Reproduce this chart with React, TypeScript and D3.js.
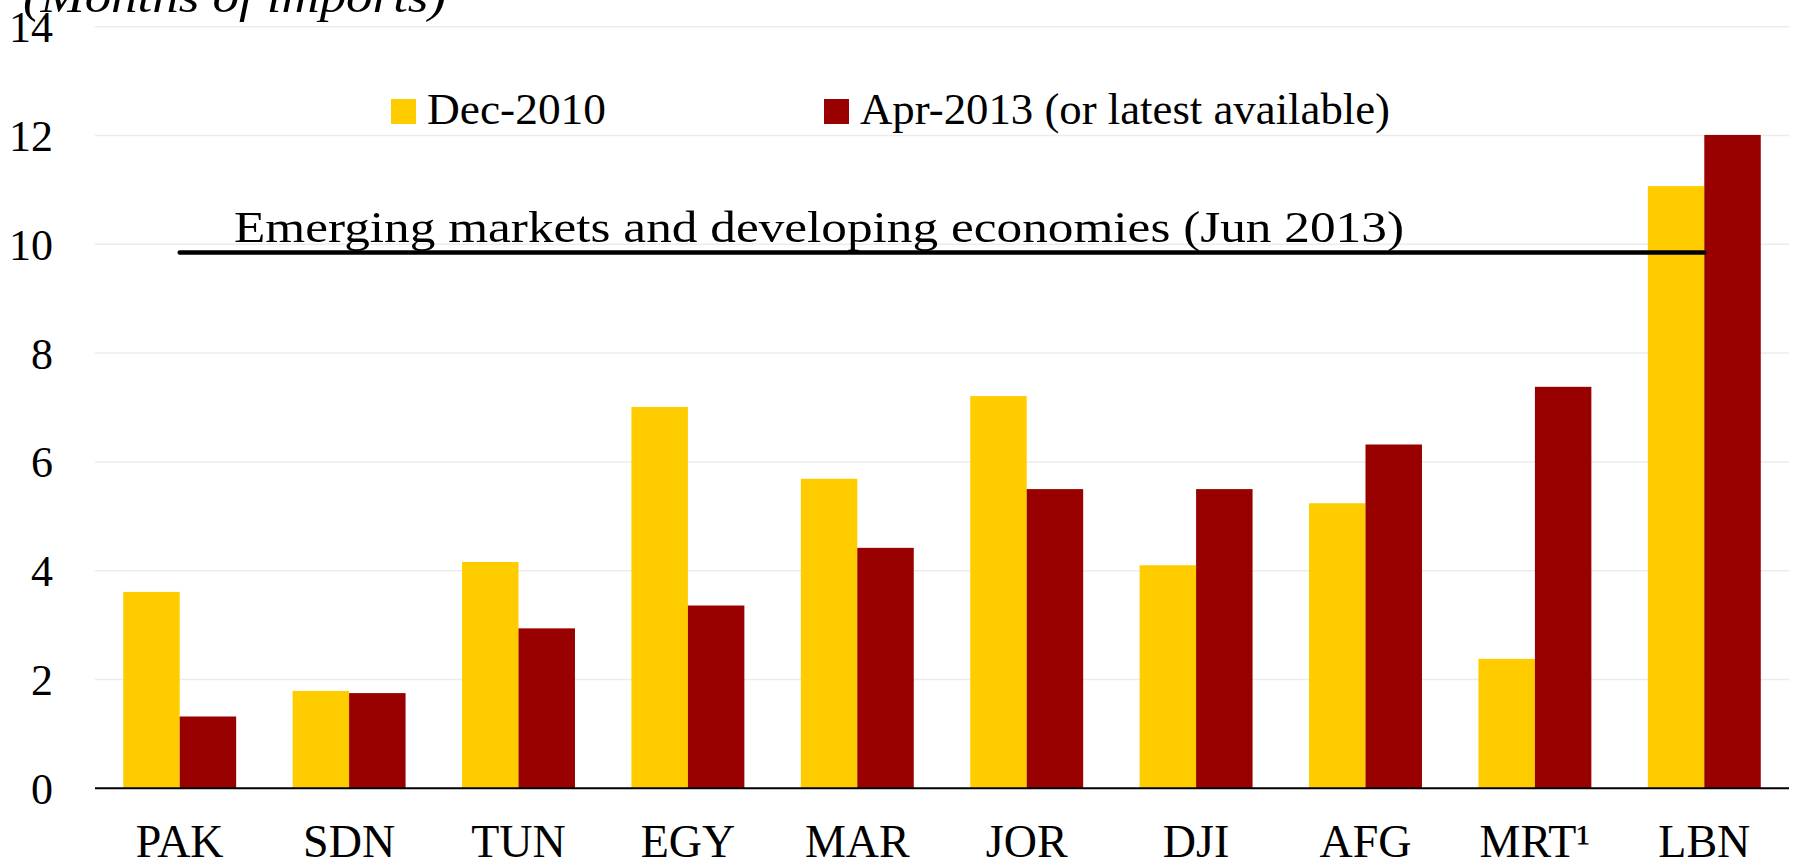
import React from "react";
import * as d3 from "d3";

const categories = ["PAK", "SDN", "TUN", "EGY", "MAR", "JOR", "DJI", "AFG", "MRT¹", "LBN"];
const dec2010 = [3.61, 1.79, 4.16, 7.01, 5.69, 7.21, 4.10, 5.24, 2.38, 11.07];
const apr2013 = [1.32, 1.75, 2.94, 3.36, 4.42, 5.50, 5.50, 6.32, 7.38, 12.01];
const seriesNames = ["Dec-2010", "Apr-2013 (or latest available)"];
const seriesColors = ["#FFCC00", "#990000"];
const yTicks = [0, 2, 4, 6, 8, 10, 12, 14];
const emdeLevel = 9.85;
const emdeLabel = "Emerging markets and developing economies (Jun 2013)";
const unitLabel = "(Months of imports)";

const W = 1794;
const H = 867;
const FONT = "'Liberation Serif', 'Times New Roman', serif";

export default function App() {
  const x = d3
    .scaleBand<string>()
    .domain(categories)
    .range([95, 1789])
    .paddingInner(1 / 3)
    .paddingOuter(1 / 6);
  const xs = d3.scaleBand<string>().domain(["a", "b"]).range([0, x.bandwidth()]).padding(0);
  const y = d3.scaleLinear().domain([0, 14]).range([788.3, 26.7]);
  const series = [dec2010, apr2013];

  const lineX1 = (x(categories[0]) as number) + x.bandwidth() / 2;
  const lineX2 = (x(categories[categories.length - 1]) as number) + x.bandwidth() / 2;

  return (
    <svg
      width={W}
      height={H}
      style={{ position: "absolute", left: 0, top: 0, background: "#fff" }}
      fontFamily={FONT}
    >
      {yTicks.slice(1).map((t) => (
        <line key={"g" + t} x1={95} x2={1789} y1={y(t)} y2={y(t)} stroke="#ececec" strokeWidth={1.5} />
      ))}
      {categories.map((c, i) => (
        <g key={c} transform={`translate(${x(c)},0)`}>
          {series.map((s, j) => (
            <rect
              key={j}
              x={xs(j === 0 ? "a" : "b")}
              y={y(s[i])}
              width={xs.bandwidth()}
              height={y(0) - y(s[i])}
              fill={seriesColors[j]}
            />
          ))}
        </g>
      ))}
      <line x1={95} x2={1789} y1={y(0)} y2={y(0)} stroke="#000" strokeWidth={2} />
      {yTicks.map((t) => (
        <text key={"t" + t} x={53} y={y(t) + 15.5} textAnchor="end" fontSize={44} fill="#000">
          {t}
        </text>
      ))}
      {categories.map((c) => (
        <text
          key={"x" + c}
          x={(x(c) as number) + x.bandwidth() / 2}
          y={856.5}
          textAnchor="middle"
          fontSize={46}
          fill="#000"
        >
          {c}
        </text>
      ))}
      <line
        x1={lineX1}
        x2={lineX2}
        y1={y(emdeLevel)}
        y2={y(emdeLevel)}
        stroke="#000"
        strokeWidth={4.5}
        strokeLinecap="round"
      />
      <text x={234} y={242} fontSize={45} fill="#000" textLength={1170} lengthAdjust="spacingAndGlyphs">
        {emdeLabel}
      </text>
      <rect x={391} y={99} width={25} height={25} fill={seriesColors[0]} />
      <text x={427} y={124} fontSize={45} fill="#000" textLength={179} lengthAdjust="spacingAndGlyphs">
        {seriesNames[0]}
      </text>
      <rect x={824} y={99} width={25} height={25} fill={seriesColors[1]} />
      <text x={860} y={124} fontSize={45} fill="#000" textLength={530} lengthAdjust="spacingAndGlyphs">
        {seriesNames[1]}
      </text>
      <text
        x={23}
        y={12}
        fontSize={46}
        fontStyle="italic"
        fill="#000"
        textLength={423}
        lengthAdjust="spacingAndGlyphs"
      >
        {unitLabel}
      </text>
    </svg>
  );
}
